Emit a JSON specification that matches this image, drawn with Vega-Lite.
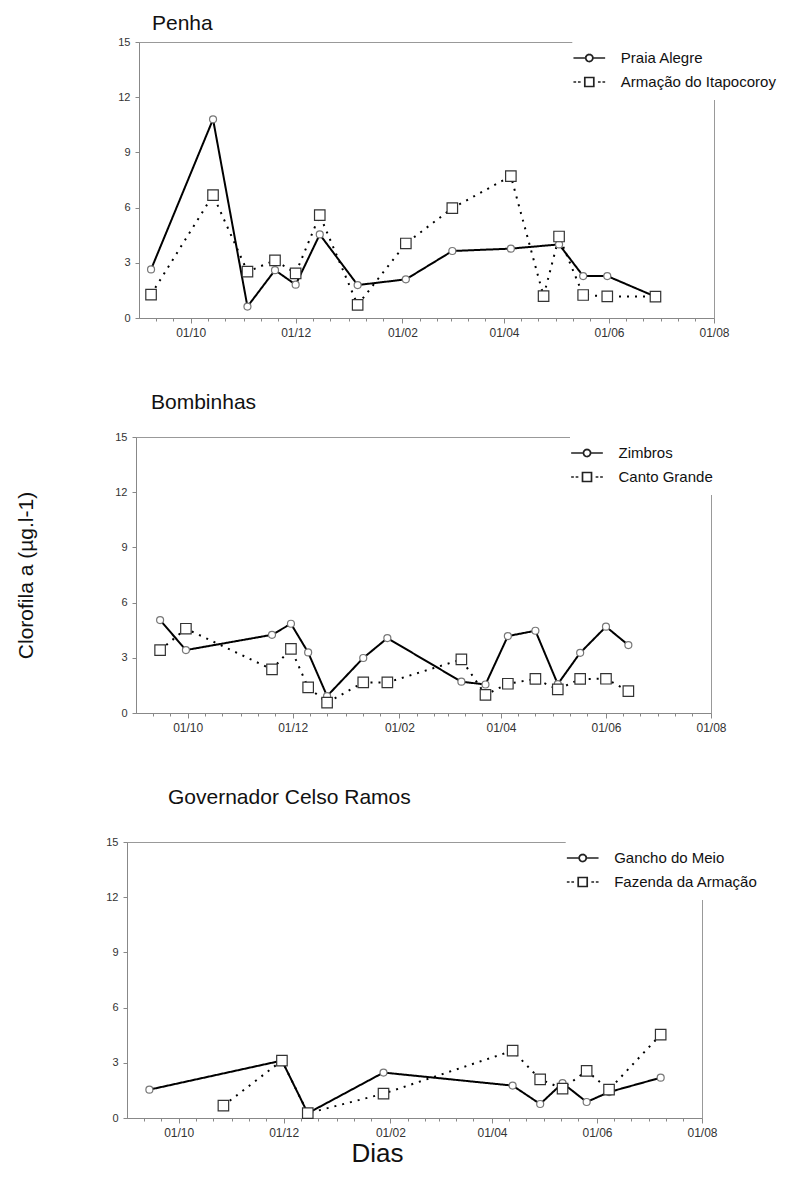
{
  "$schema": "https://vega.github.io/schema/vega-lite/v6.json",
  "background": "white",
  "padding": {"left": 4, "top": 12, "right": 0, "bottom": 0},
  "columns": 1,
  "spacing": 52,
  "config": {
    "font": "Liberation Sans",
    "view": {"stroke": "#999", "strokeWidth": 1},
    "axis": {"domainColor": "#888", "tickColor": "#888", "labelColor": "#333", "labelFont": "Liberation Sans", "titleFont": "Liberation Sans", "titleFontWeight": "normal", "titleColor": "#111", "grid": false, "labelFlush": false},
    "legend": {"labelFont": "Liberation Sans", "labelColor": "#111"}
  },
  "resolve": {
    "scale": {"x": "independent", "y": "independent", "strokeDash": "independent", "shape": "independent", "size": "independent", "stroke": "independent"},
    "legend": {"strokeDash": "independent"}
  },
  "datasets": {
    "p1": [
      {"site": "Praia Alegre", "date": "2006-09-08", "value": 2.64},
      {"site": "Praia Alegre", "date": "2006-10-14", "value": 10.8},
      {"site": "Praia Alegre", "date": "2006-11-03", "value": 0.62},
      {"site": "Praia Alegre", "date": "2006-11-19", "value": 2.6},
      {"site": "Praia Alegre", "date": "2006-12-01", "value": 1.81},
      {"site": "Praia Alegre", "date": "2006-12-15", "value": 4.54},
      {"site": "Praia Alegre", "date": "2007-01-06", "value": 1.79},
      {"site": "Praia Alegre", "date": "2007-02-03", "value": 2.1},
      {"site": "Praia Alegre", "date": "2007-03-02", "value": 3.64},
      {"site": "Praia Alegre", "date": "2007-04-05", "value": 3.77},
      {"site": "Praia Alegre", "date": "2007-05-03", "value": 4.0},
      {"site": "Praia Alegre", "date": "2007-05-17", "value": 2.28},
      {"site": "Praia Alegre", "date": "2007-05-31", "value": 2.28},
      {"site": "Praia Alegre", "date": "2007-06-28", "value": 1.16},
      {"site": "Armação do Itapocoroy", "date": "2006-09-08", "value": 1.27},
      {"site": "Armação do Itapocoroy", "date": "2006-10-14", "value": 6.68},
      {"site": "Armação do Itapocoroy", "date": "2006-11-03", "value": 2.52},
      {"site": "Armação do Itapocoroy", "date": "2006-11-19", "value": 3.13},
      {"site": "Armação do Itapocoroy", "date": "2006-12-01", "value": 2.43},
      {"site": "Armação do Itapocoroy", "date": "2006-12-15", "value": 5.59},
      {"site": "Armação do Itapocoroy", "date": "2007-01-06", "value": 0.71},
      {"site": "Armação do Itapocoroy", "date": "2007-02-03", "value": 4.05},
      {"site": "Armação do Itapocoroy", "date": "2007-03-02", "value": 5.97},
      {"site": "Armação do Itapocoroy", "date": "2007-04-05", "value": 7.71},
      {"site": "Armação do Itapocoroy", "date": "2007-04-24", "value": 1.19},
      {"site": "Armação do Itapocoroy", "date": "2007-05-03", "value": 4.43},
      {"site": "Armação do Itapocoroy", "date": "2007-05-17", "value": 1.25},
      {"site": "Armação do Itapocoroy", "date": "2007-05-31", "value": 1.18},
      {"site": "Armação do Itapocoroy", "date": "2007-06-28", "value": 1.16}
    ],
    "p2": [
      {"site": "Zimbros", "date": "2006-09-15", "value": 5.05},
      {"site": "Zimbros", "date": "2006-09-30", "value": 3.42},
      {"site": "Zimbros", "date": "2006-11-19", "value": 4.25},
      {"site": "Zimbros", "date": "2006-11-30", "value": 4.85},
      {"site": "Zimbros", "date": "2006-12-10", "value": 3.29},
      {"site": "Zimbros", "date": "2006-12-21", "value": 0.92},
      {"site": "Zimbros", "date": "2007-01-11", "value": 2.99},
      {"site": "Zimbros", "date": "2007-01-25", "value": 4.07},
      {"site": "Zimbros", "date": "2007-03-09", "value": 1.7},
      {"site": "Zimbros", "date": "2007-03-23", "value": 1.55},
      {"site": "Zimbros", "date": "2007-04-05", "value": 4.18},
      {"site": "Zimbros", "date": "2007-04-21", "value": 4.47},
      {"site": "Zimbros", "date": "2007-05-04", "value": 1.57},
      {"site": "Zimbros", "date": "2007-05-17", "value": 3.27},
      {"site": "Zimbros", "date": "2007-06-01", "value": 4.69},
      {"site": "Zimbros", "date": "2007-06-14", "value": 3.69},
      {"site": "Canto Grande", "date": "2006-09-15", "value": 3.42},
      {"site": "Canto Grande", "date": "2006-09-30", "value": 4.58},
      {"site": "Canto Grande", "date": "2006-11-19", "value": 2.37},
      {"site": "Canto Grande", "date": "2006-11-30", "value": 3.49},
      {"site": "Canto Grande", "date": "2006-12-10", "value": 1.39},
      {"site": "Canto Grande", "date": "2006-12-21", "value": 0.56},
      {"site": "Canto Grande", "date": "2007-01-11", "value": 1.66},
      {"site": "Canto Grande", "date": "2007-01-25", "value": 1.66},
      {"site": "Canto Grande", "date": "2007-03-09", "value": 2.91},
      {"site": "Canto Grande", "date": "2007-03-23", "value": 0.99},
      {"site": "Canto Grande", "date": "2007-04-05", "value": 1.59},
      {"site": "Canto Grande", "date": "2007-04-21", "value": 1.85},
      {"site": "Canto Grande", "date": "2007-05-04", "value": 1.28},
      {"site": "Canto Grande", "date": "2007-05-17", "value": 1.85},
      {"site": "Canto Grande", "date": "2007-06-01", "value": 1.86},
      {"site": "Canto Grande", "date": "2007-06-14", "value": 1.19}
    ],
    "p3": [
      {"site": "Gancho do Meio", "date": "2006-09-14", "value": 1.54},
      {"site": "Gancho do Meio", "date": "2006-11-30", "value": 3.12},
      {"site": "Gancho do Meio", "date": "2006-12-15", "value": 0.26},
      {"site": "Gancho do Meio", "date": "2007-01-28", "value": 2.47},
      {"site": "Gancho do Meio", "date": "2007-04-13", "value": 1.76},
      {"site": "Gancho do Meio", "date": "2007-04-29", "value": 0.76},
      {"site": "Gancho do Meio", "date": "2007-05-12", "value": 1.9},
      {"site": "Gancho do Meio", "date": "2007-05-26", "value": 0.87},
      {"site": "Gancho do Meio", "date": "2007-06-08", "value": 1.41},
      {"site": "Gancho do Meio", "date": "2007-07-08", "value": 2.19},
      {"site": "Fazenda da Armação", "date": "2006-10-27", "value": 0.67},
      {"site": "Fazenda da Armação", "date": "2006-11-30", "value": 3.12},
      {"site": "Fazenda da Armação", "date": "2006-12-15", "value": 0.26},
      {"site": "Fazenda da Armação", "date": "2007-01-28", "value": 1.32},
      {"site": "Fazenda da Armação", "date": "2007-04-13", "value": 3.66},
      {"site": "Fazenda da Armação", "date": "2007-04-29", "value": 2.1},
      {"site": "Fazenda da Armação", "date": "2007-05-12", "value": 1.6},
      {"site": "Fazenda da Armação", "date": "2007-05-26", "value": 2.56},
      {"site": "Fazenda da Armação", "date": "2007-06-08", "value": 1.54},
      {"site": "Fazenda da Armação", "date": "2007-07-08", "value": 4.53}
    ]
  },
  "concat": [
    {
      "hconcat": [
        {"width": 13, "height": 10, "view": {"stroke": null}, "data": {"values": [{}]}, "mark": {"type": "point", "opacity": 0, "size": 1}},
        {
          "data": {"name": "p1"},
          "width": 575,
          "height": 276,
          "title": {"text": "Penha", "anchor": "start", "frame": "group", "dx": 13, "offset": -15, "baseline": "alphabetic", "fontSize": 21, "fontWeight": "normal", "color": "#111"},
          "resolve": {"axis": {"x": "independent"}},
          "layer": [
            {
              "mark": {"type": "line", "color": "black", "strokeWidth": 2},
              "encoding": {
                "x": {"field": "date", "type": "temporal",
                  "scale": {"type": "utc", "nice": false, "domain": [{"year": 2006, "month": 9, "date": 1, "utc": true}, {"year": 2007, "month": 8, "date": 1, "utc": true}]},
                  "axis": {"values": [{"year": 2006, "month": 10, "date": 1, "utc": true}, {"year": 2006, "month": 12, "date": 1, "utc": true}, {"year": 2007, "month": 2, "date": 1, "utc": true}, {"year": 2007, "month": 4, "date": 1, "utc": true}, {"year": 2007, "month": 6, "date": 1, "utc": true}, {"year": 2007, "month": 8, "date": 1, "utc": true}],
                    "format": "%d/%m", "tickSize": 5, "labelPadding": 4, "labelFontSize": 12, "labelFlush": false, "title": null}},
                "y": {"field": "value", "type": "quantitative", "scale": {"domain": [0, 15], "nice": false},
                  "axis": {"values": [0, 3, 6, 9, 12, 15], "tickSize": 4, "labelPadding": 5, "labelFontSize": 11, "title": "Clorofila a (µg.l-1)", "titleOpacity": 0, "titleX": -110, "titleBaseline": "middle", "titleFontSize": 21}},
                "strokeDash": {"field": "site", "type": "nominal", "sort": "descending", "scale": {"range": [[1, 0], [2, 6]]},
                  "legend": {"orient": "none", "legendX": 433.3, "legendY": -1, "title": null, "symbolSize": 4, "symbolStrokeWidth": 1.7, "symbolStrokeColor": "#222", "labelFontSize": 15, "labelOffset": 24, "rowPadding": 7, "padding": 9.5, "fillColor": "white",
                    "encode": {"symbols": {"update": {"shape": {"signal": "datum.index === 0 ? 'M-15,0H-3.5M3.5,0H15M-3.5,0A3.5,3.5 0 1,0 3.5,0A3.5,3.5 0 1,0 -3.5,0Z' : 'M-15,0h1M-10.5,0h1M9.5,0h1M14,0h1M-4.5,-4.5h2M-2.7,-4.5h2M-0.9,-4.5h2M0.9,-4.5h2M2.5,-4.5h2M-4.5,4.5h2M-2.7,4.5h2M-0.9,4.5h2M0.9,4.5h2M2.5,4.5h2M-4.5,-4.5v2M-4.5,-2.7v2M-4.5,-0.9v2M-4.5,0.9v2M-4.5,2.5v2M4.5,-4.5v2M4.5,-2.7v2M4.5,-0.9v2M4.5,0.9v2M4.5,2.5v2'"}, "stroke": {"value": "#222"}, "strokeWidth": {"value": 1.7}, "strokeCap": {"value": "square"}, "strokeDash": {"value": [1, 0]}, "fill": {"value": "white"}, "fillOpacity": {"value": 1}, "strokeOpacity": {"value": 1}, "opacity": {"value": 1}, "size": {"value": 4}}}}}}
              }
            },
            {
              "mark": {"type": "point", "filled": true, "fill": "white", "stroke": "#444", "strokeWidth": 1.2, "opacity": 1},
              "encoding": {
                "x": {"field": "date", "type": "temporal",
                  "axis": {"orient": "bottom", "labels": false, "domain": false, "tickSize": 3, "title": null,
                    "values": [{"year": 2006, "month": 9, "date": 11, "utc": true}, {"year": 2006, "month": 9, "date": 21, "utc": true}, {"year": 2006, "month": 10, "date": 11, "utc": true}, {"year": 2006, "month": 10, "date": 21, "utc": true}, {"year": 2006, "month": 11, "date": 1, "utc": true}, {"year": 2006, "month": 11, "date": 11, "utc": true}, {"year": 2006, "month": 11, "date": 21, "utc": true}, {"year": 2006, "month": 12, "date": 11, "utc": true}, {"year": 2006, "month": 12, "date": 21, "utc": true}, {"year": 2007, "month": 1, "date": 1, "utc": true}, {"year": 2007, "month": 1, "date": 11, "utc": true}, {"year": 2007, "month": 1, "date": 21, "utc": true}, {"year": 2007, "month": 2, "date": 11, "utc": true}, {"year": 2007, "month": 2, "date": 21, "utc": true}, {"year": 2007, "month": 3, "date": 1, "utc": true}, {"year": 2007, "month": 3, "date": 11, "utc": true}, {"year": 2007, "month": 3, "date": 21, "utc": true}, {"year": 2007, "month": 4, "date": 11, "utc": true}, {"year": 2007, "month": 4, "date": 21, "utc": true}, {"year": 2007, "month": 5, "date": 1, "utc": true}, {"year": 2007, "month": 5, "date": 11, "utc": true}, {"year": 2007, "month": 5, "date": 21, "utc": true}, {"year": 2007, "month": 6, "date": 11, "utc": true}, {"year": 2007, "month": 6, "date": 21, "utc": true}, {"year": 2007, "month": 7, "date": 1, "utc": true}, {"year": 2007, "month": 7, "date": 11, "utc": true}, {"year": 2007, "month": 7, "date": 21, "utc": true}]}},
                "y": {"field": "value", "type": "quantitative"},
                "shape": {"field": "site", "type": "nominal", "scale": {"domain": ["Praia Alegre", "Armação do Itapocoroy"], "range": ["circle", "square"]}, "legend": null},
                "size": {"field": "site", "type": "nominal", "scale": {"domain": ["Praia Alegre", "Armação do Itapocoroy"], "range": [49, 110]}, "legend": null},
                "stroke": {"field": "site", "type": "nominal", "scale": {"domain": ["Praia Alegre", "Armação do Itapocoroy"], "range": ["#777", "#333"]}, "legend": null}
              }
            }
          ]
        }
      ],
      "spacing": 0,
      "resolve": {"scale": {"strokeDash": "independent", "shape": "independent", "size": "independent", "stroke": "independent"}, "legend": {"strokeDash": "independent"}}
    },
    {
      "hconcat": [
        {"width": 10, "height": 10, "view": {"stroke": null}, "data": {"values": [{}]}, "mark": {"type": "point", "opacity": 0, "size": 1}},
        {
          "data": {"name": "p2"},
          "width": 575,
          "height": 276,
          "title": {"text": "Bombinhas", "anchor": "start", "frame": "group", "dx": 15, "offset": 1, "baseline": "alphabetic", "fontSize": 21, "fontWeight": "normal", "color": "#111"},
          "resolve": {"axis": {"x": "independent"}},
          "layer": [
            {
              "mark": {"type": "line", "color": "black", "strokeWidth": 2},
              "encoding": {
                "x": {"field": "date", "type": "temporal",
                  "scale": {"type": "utc", "nice": false, "domain": [{"year": 2006, "month": 9, "date": 1, "utc": true}, {"year": 2007, "month": 8, "date": 1, "utc": true}]},
                  "axis": {"values": [{"year": 2006, "month": 10, "date": 1, "utc": true}, {"year": 2006, "month": 12, "date": 1, "utc": true}, {"year": 2007, "month": 2, "date": 1, "utc": true}, {"year": 2007, "month": 4, "date": 1, "utc": true}, {"year": 2007, "month": 6, "date": 1, "utc": true}, {"year": 2007, "month": 8, "date": 1, "utc": true}],
                    "format": "%d/%m", "tickSize": 5, "labelPadding": 4, "labelFontSize": 12, "labelFlush": false, "title": null}},
                "y": {"field": "value", "type": "quantitative", "scale": {"domain": [0, 15], "nice": false},
                  "axis": {"values": [0, 3, 6, 9, 12, 15], "tickSize": 4, "labelPadding": 5, "labelFontSize": 11, "title": "Clorofila a (µg.l-1)", "titleX": -110, "titleBaseline": "middle", "titleFontSize": 21}},
                "strokeDash": {"field": "site", "type": "nominal", "sort": "descending", "scale": {"range": [[1, 0], [2, 6]]},
                  "legend": {"orient": "none", "legendX": 434, "legendY": -1, "title": null, "symbolSize": 4, "symbolStrokeWidth": 1.7, "symbolStrokeColor": "#222", "labelFontSize": 15, "labelOffset": 24, "rowPadding": 7, "padding": 9.5, "fillColor": "white",
                    "encode": {"symbols": {"update": {"shape": {"signal": "datum.index === 0 ? 'M-15,0H-3.5M3.5,0H15M-3.5,0A3.5,3.5 0 1,0 3.5,0A3.5,3.5 0 1,0 -3.5,0Z' : 'M-15,0h1M-10.5,0h1M9.5,0h1M14,0h1M-4.5,-4.5h2M-2.7,-4.5h2M-0.9,-4.5h2M0.9,-4.5h2M2.5,-4.5h2M-4.5,4.5h2M-2.7,4.5h2M-0.9,4.5h2M0.9,4.5h2M2.5,4.5h2M-4.5,-4.5v2M-4.5,-2.7v2M-4.5,-0.9v2M-4.5,0.9v2M-4.5,2.5v2M4.5,-4.5v2M4.5,-2.7v2M4.5,-0.9v2M4.5,0.9v2M4.5,2.5v2'"}, "stroke": {"value": "#222"}, "strokeWidth": {"value": 1.7}, "strokeCap": {"value": "square"}, "strokeDash": {"value": [1, 0]}, "fill": {"value": "white"}, "fillOpacity": {"value": 1}, "strokeOpacity": {"value": 1}, "opacity": {"value": 1}, "size": {"value": 4}}}}}}
              }
            },
            {
              "mark": {"type": "point", "filled": true, "fill": "white", "stroke": "#444", "strokeWidth": 1.2, "opacity": 1},
              "encoding": {
                "x": {"field": "date", "type": "temporal",
                  "axis": {"orient": "bottom", "labels": false, "domain": false, "tickSize": 3, "title": null,
                    "values": [{"year": 2006, "month": 9, "date": 11, "utc": true}, {"year": 2006, "month": 9, "date": 21, "utc": true}, {"year": 2006, "month": 10, "date": 11, "utc": true}, {"year": 2006, "month": 10, "date": 21, "utc": true}, {"year": 2006, "month": 11, "date": 1, "utc": true}, {"year": 2006, "month": 11, "date": 11, "utc": true}, {"year": 2006, "month": 11, "date": 21, "utc": true}, {"year": 2006, "month": 12, "date": 11, "utc": true}, {"year": 2006, "month": 12, "date": 21, "utc": true}, {"year": 2007, "month": 1, "date": 1, "utc": true}, {"year": 2007, "month": 1, "date": 11, "utc": true}, {"year": 2007, "month": 1, "date": 21, "utc": true}, {"year": 2007, "month": 2, "date": 11, "utc": true}, {"year": 2007, "month": 2, "date": 21, "utc": true}, {"year": 2007, "month": 3, "date": 1, "utc": true}, {"year": 2007, "month": 3, "date": 11, "utc": true}, {"year": 2007, "month": 3, "date": 21, "utc": true}, {"year": 2007, "month": 4, "date": 11, "utc": true}, {"year": 2007, "month": 4, "date": 21, "utc": true}, {"year": 2007, "month": 5, "date": 1, "utc": true}, {"year": 2007, "month": 5, "date": 11, "utc": true}, {"year": 2007, "month": 5, "date": 21, "utc": true}, {"year": 2007, "month": 6, "date": 11, "utc": true}, {"year": 2007, "month": 6, "date": 21, "utc": true}, {"year": 2007, "month": 7, "date": 1, "utc": true}, {"year": 2007, "month": 7, "date": 11, "utc": true}, {"year": 2007, "month": 7, "date": 21, "utc": true}]}},
                "y": {"field": "value", "type": "quantitative"},
                "shape": {"field": "site", "type": "nominal", "scale": {"domain": ["Zimbros", "Canto Grande"], "range": ["circle", "square"]}, "legend": null},
                "size": {"field": "site", "type": "nominal", "scale": {"domain": ["Zimbros", "Canto Grande"], "range": [49, 110]}, "legend": null},
                "stroke": {"field": "site", "type": "nominal", "scale": {"domain": ["Zimbros", "Canto Grande"], "range": ["#777", "#333"]}, "legend": null}
              }
            }
          ]
        }
      ],
      "spacing": 0,
      "resolve": {"scale": {"strokeDash": "independent", "shape": "independent", "size": "independent", "stroke": "independent"}, "legend": {"strokeDash": "independent"}}
    },
    {
      "hconcat": [
        {"width": 1, "height": 10, "view": {"stroke": null}, "data": {"values": [{}]}, "mark": {"type": "point", "opacity": 0, "size": 1}},
        {
          "data": {"name": "p3"},
          "width": 575,
          "height": 276,
          "title": {"text": "Governador Celso Ramos", "anchor": "start", "frame": "group", "dx": 41, "offset": 11, "baseline": "alphabetic", "fontSize": 21, "fontWeight": "normal", "color": "#111"},
          "resolve": {"axis": {"x": "independent"}},
          "layer": [
            {
              "mark": {"type": "line", "color": "black", "strokeWidth": 2},
              "encoding": {
                "x": {"field": "date", "type": "temporal",
                  "scale": {"type": "utc", "nice": false, "domain": [{"year": 2006, "month": 9, "date": 1, "utc": true}, {"year": 2007, "month": 8, "date": 1, "utc": true}]},
                  "axis": {"values": [{"year": 2006, "month": 10, "date": 1, "utc": true}, {"year": 2006, "month": 12, "date": 1, "utc": true}, {"year": 2007, "month": 2, "date": 1, "utc": true}, {"year": 2007, "month": 4, "date": 1, "utc": true}, {"year": 2007, "month": 6, "date": 1, "utc": true}, {"year": 2007, "month": 8, "date": 1, "utc": true}],
                    "format": "%d/%m", "tickSize": 5, "labelPadding": 4, "labelFontSize": 12, "labelFlush": false, "title": "Dias", "titleFontSize": 26, "titleX": 250, "titleY": 43, "titleBaseline": "alphabetic", "titleAlign": "center"}},
                "y": {"field": "value", "type": "quantitative", "scale": {"domain": [0, 15], "nice": false},
                  "axis": {"values": [0, 3, 6, 9, 12, 15], "tickSize": 4, "labelPadding": 5, "labelFontSize": 11, "title": "Clorofila a (µg.l-1)", "titleOpacity": 0, "titleX": -110, "titleBaseline": "middle", "titleFontSize": 21}},
                "strokeDash": {"field": "site", "type": "nominal", "sort": "descending", "scale": {"range": [[1, 0], [2, 6]]},
                  "legend": {"orient": "none", "legendX": 438.7, "legendY": -1, "title": null, "symbolSize": 4, "symbolStrokeWidth": 1.7, "symbolStrokeColor": "#222", "labelFontSize": 15, "labelOffset": 24, "rowPadding": 7, "padding": 9.5, "fillColor": "white",
                    "encode": {"symbols": {"update": {"shape": {"signal": "datum.index === 0 ? 'M-15,0H-3.5M3.5,0H15M-3.5,0A3.5,3.5 0 1,0 3.5,0A3.5,3.5 0 1,0 -3.5,0Z' : 'M-15,0h1M-10.5,0h1M9.5,0h1M14,0h1M-4.5,-4.5h2M-2.7,-4.5h2M-0.9,-4.5h2M0.9,-4.5h2M2.5,-4.5h2M-4.5,4.5h2M-2.7,4.5h2M-0.9,4.5h2M0.9,4.5h2M2.5,4.5h2M-4.5,-4.5v2M-4.5,-2.7v2M-4.5,-0.9v2M-4.5,0.9v2M-4.5,2.5v2M4.5,-4.5v2M4.5,-2.7v2M4.5,-0.9v2M4.5,0.9v2M4.5,2.5v2'"}, "stroke": {"value": "#222"}, "strokeWidth": {"value": 1.7}, "strokeCap": {"value": "square"}, "strokeDash": {"value": [1, 0]}, "fill": {"value": "white"}, "fillOpacity": {"value": 1}, "strokeOpacity": {"value": 1}, "opacity": {"value": 1}, "size": {"value": 4}}}}}}
              }
            },
            {
              "mark": {"type": "point", "filled": true, "fill": "white", "stroke": "#444", "strokeWidth": 1.2, "opacity": 1},
              "encoding": {
                "x": {"field": "date", "type": "temporal",
                  "axis": {"orient": "bottom", "labels": false, "domain": false, "tickSize": 3, "title": null,
                    "values": [{"year": 2006, "month": 9, "date": 11, "utc": true}, {"year": 2006, "month": 9, "date": 21, "utc": true}, {"year": 2006, "month": 10, "date": 11, "utc": true}, {"year": 2006, "month": 10, "date": 21, "utc": true}, {"year": 2006, "month": 11, "date": 1, "utc": true}, {"year": 2006, "month": 11, "date": 11, "utc": true}, {"year": 2006, "month": 11, "date": 21, "utc": true}, {"year": 2006, "month": 12, "date": 11, "utc": true}, {"year": 2006, "month": 12, "date": 21, "utc": true}, {"year": 2007, "month": 1, "date": 1, "utc": true}, {"year": 2007, "month": 1, "date": 11, "utc": true}, {"year": 2007, "month": 1, "date": 21, "utc": true}, {"year": 2007, "month": 2, "date": 11, "utc": true}, {"year": 2007, "month": 2, "date": 21, "utc": true}, {"year": 2007, "month": 3, "date": 1, "utc": true}, {"year": 2007, "month": 3, "date": 11, "utc": true}, {"year": 2007, "month": 3, "date": 21, "utc": true}, {"year": 2007, "month": 4, "date": 11, "utc": true}, {"year": 2007, "month": 4, "date": 21, "utc": true}, {"year": 2007, "month": 5, "date": 1, "utc": true}, {"year": 2007, "month": 5, "date": 11, "utc": true}, {"year": 2007, "month": 5, "date": 21, "utc": true}, {"year": 2007, "month": 6, "date": 11, "utc": true}, {"year": 2007, "month": 6, "date": 21, "utc": true}, {"year": 2007, "month": 7, "date": 1, "utc": true}, {"year": 2007, "month": 7, "date": 11, "utc": true}, {"year": 2007, "month": 7, "date": 21, "utc": true}]}},
                "y": {"field": "value", "type": "quantitative"},
                "shape": {"field": "site", "type": "nominal", "scale": {"domain": ["Gancho do Meio", "Fazenda da Armação"], "range": ["circle", "square"]}, "legend": null},
                "size": {"field": "site", "type": "nominal", "scale": {"domain": ["Gancho do Meio", "Fazenda da Armação"], "range": [49, 110]}, "legend": null},
                "stroke": {"field": "site", "type": "nominal", "scale": {"domain": ["Gancho do Meio", "Fazenda da Armação"], "range": ["#777", "#333"]}, "legend": null}
              }
            }
          ]
        }
      ],
      "spacing": 0,
      "resolve": {"scale": {"strokeDash": "independent", "shape": "independent", "size": "independent", "stroke": "independent"}, "legend": {"strokeDash": "independent"}}
    }
  ]
}
